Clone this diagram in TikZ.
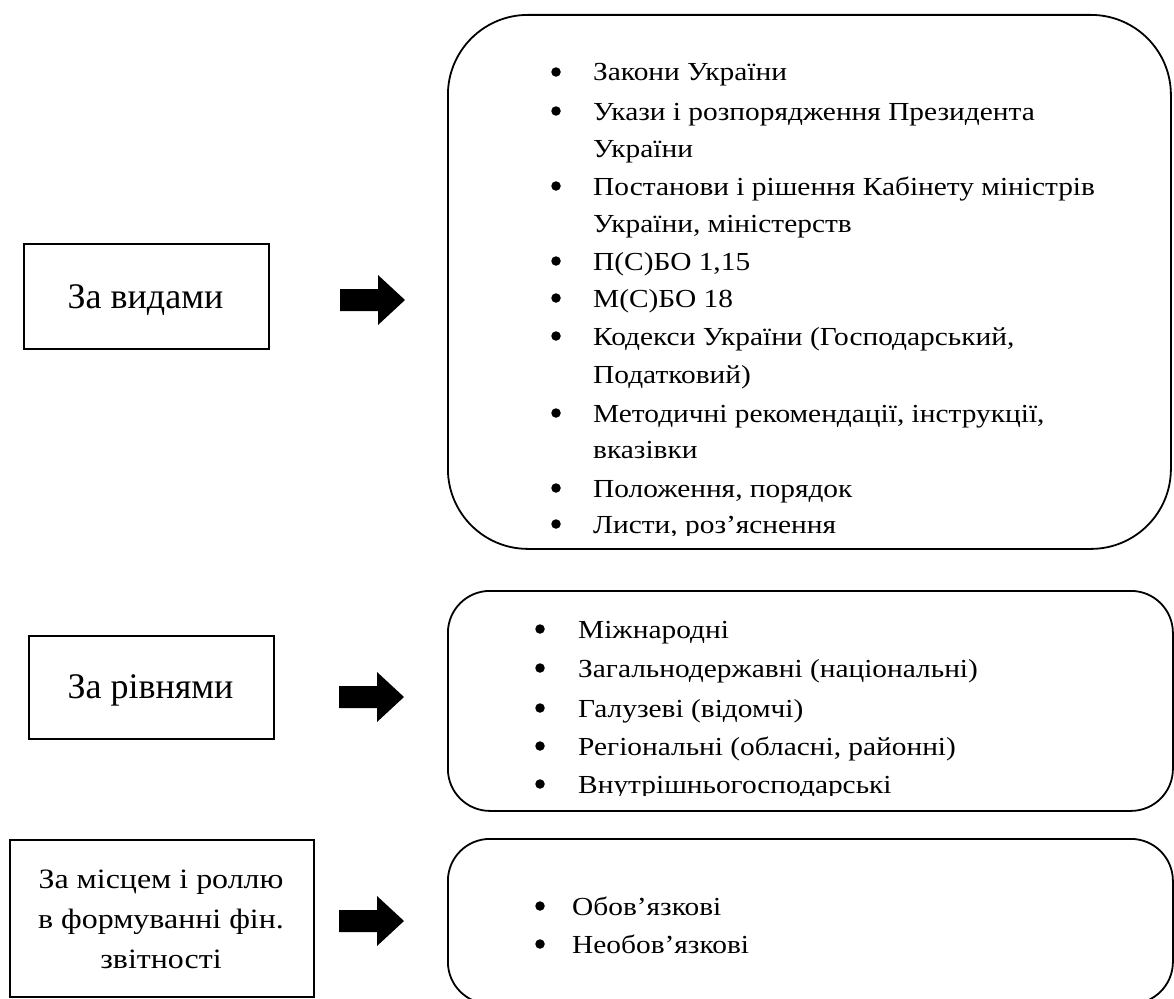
\documentclass[tikz,border=0pt]{standalone}
\usepackage{graphicx}
\usepackage{fontspec}
\setmainfont{Liberation Serif}
\newcommand\stretchtxt[1]{\scalebox{1.13}[1]{#1}}
\newcommand\stretchcat[1]{\scalebox{1.14}[1]{#1}}
\begin{document}
\begin{tikzpicture}[x=1pt,y=-1pt,
  catbox/.style={draw, line width=1.6pt, inner sep=0pt},
  cattext/.style={anchor=base, inner sep=0pt, font=\fontsize{36}{40}\selectfont},
  cattextsmall/.style={anchor=base, inner sep=0pt, font=\fontsize{28}{40}\selectfont},
  listbox/.style={draw, line width=1.8pt, inner sep=0pt, anchor=north west},
  itemtext/.style={anchor=base west, inner sep=0pt, font=\fontsize{26}{30}\selectfont},
  dot/.style={circle, fill=black, inner sep=0pt, minimum size=9.5pt},
  barrow/.pic={\fill[black] (0,-11) -- (38,-11) -- (38,-25) -- (65,0) -- (38,25) -- (38,11) -- (0,11) -- cycle;}
]
\useasboundingbox (0,0) rectangle (1174,998);
\clip (0,0) rectangle (1174,998);

% left category boxes
\node[catbox, minimum width=245pt, minimum height=105pt, anchor=north west] (k1) at (23,243) {};
\node[cattext] (k1t) at (145.5,308) {За видами};
\node[catbox, minimum width=245pt, minimum height=103pt, anchor=north west] (k2) at (28,635) {};
\node[cattext] (k2t) at (150.5,698) {За рівнями};
\node[catbox, minimum width=304pt, minimum height=157pt, anchor=north west] (k3) at (9,839) {};
\node[cattextsmall] (k3a) at (161,888) {\stretchcat{За місцем і роллю}};
\node[cattextsmall] (k3b) at (161,928) {\stretchcat{в формуванні фін.}};
\node[cattextsmall] (k3c) at (161,968) {\stretchcat{звітності}};

% block arrows
\pic at (340,300) {barrow};
\pic at (339,697) {barrow};
\pic at (339,921) {barrow};

% rounded list boxes
\node[listbox, rounded corners=80pt, minimum width=723pt, minimum height=534pt] (la) at (447,14) {};
\node[listbox, rounded corners=42pt, minimum width=725pt, minimum height=220pt] (lb) at (447,590) {};
\node[listbox, rounded corners=42pt, minimum width=725pt, minimum height=165pt] (lc) at (447,838) {};

% list A
\foreach \yy/\tt [count=\i] in {
  81/{Закони України},
  120/{Укази і розпорядження Президента},
  157/{України},
  195/{Постанови і рішення Кабінету міністрів},
  232/{України, міністерств},
  270/{П(С)БО 1,15},
  307/{М(С)БО 18},
  345/{Кодекси України (Господарський,},
  383/{Податковий)},
  422/{Методичні рекомендації, інструкції,},
  458/{вказівки},
  497/{Положення, порядок}}
  \node[itemtext] (a\i) at (593,\yy) {\stretchtxt{\tt}};
\begin{scope}
  \clip (0,0) rectangle (1174,535);
  \node[itemtext] (a13) at (593,533) {\stretchtxt{Листи, роз’яснення}};
\end{scope}
\foreach \yy [count=\i] in {81,120,195,270,307,345,422,497,533}
  \node[dot] (ad\i) at (556,\yy-9) {};

% list B
\foreach \yy/\tt [count=\i] in {
  638/{Міжнародні},
  677/{Загальнодержавні (національні)},
  717/{Галузеві (відомчі)},
  755/{Регіональні (обласні, районні)}}
  \node[itemtext] (b\i) at (578,\yy) {\stretchtxt{\tt}};
\begin{scope}
  \clip (0,0) rectangle (1174,795);
  \node[itemtext] (b5) at (578,793) {\stretchtxt{Внутрішньогосподарські}};
\end{scope}
\foreach \yy [count=\i] in {638,677,717,755,793}
  \node[dot] (bd\i) at (540,\yy-9) {};

% list C
\node[itemtext] (c1) at (572,915) {\stretchtxt{Обов’язкові}};
\node[itemtext] (c2) at (572,953) {\stretchtxt{Необов’язкові}};
\node[dot] (cd1) at (540,906) {};
\node[dot] (cd2) at (540,944) {};
\end{tikzpicture}
\end{document}
